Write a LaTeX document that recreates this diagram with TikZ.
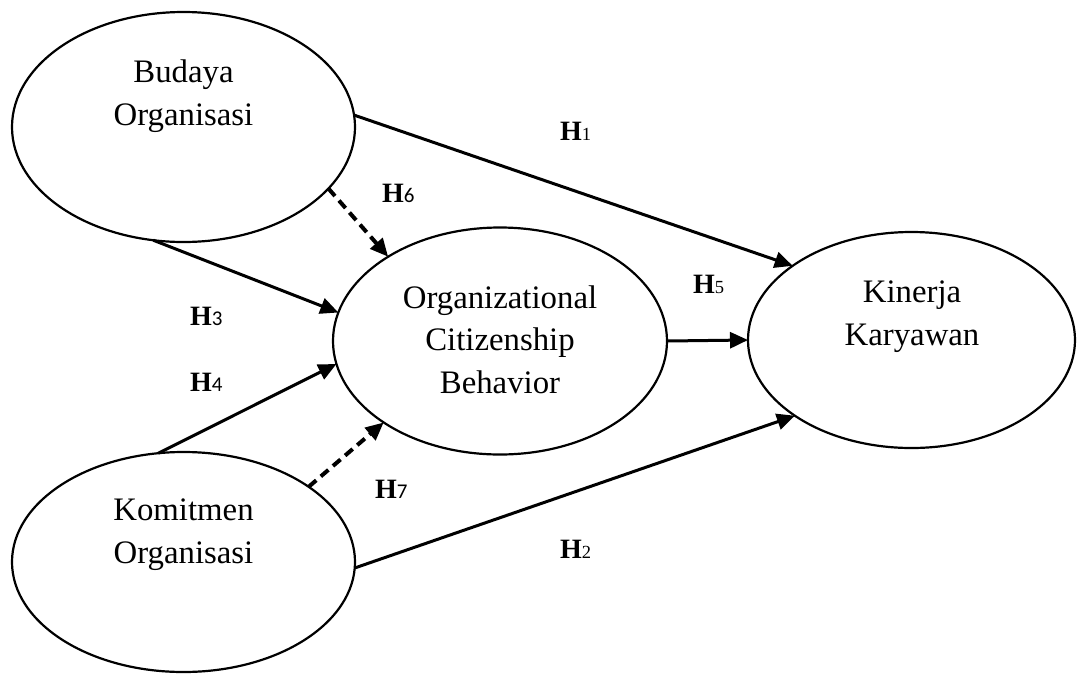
\documentclass[tikz,border=0pt]{standalone}
\usepackage{fontspec}
\setmainfont{Liberation Serif}
\newfontfamily\calfont{Carlito}
\usetikzlibrary{shapes.geometric,arrows.meta}
\tikzset{
  latent/.style={ellipse, draw, line width=2.2pt, inner sep=0pt, outer sep=0pt},
  lbl/.style={font=\fontsize{32.8}{42.5}\selectfont, align=center, anchor=base, inner sep=0pt},
  hyp/.style={anchor=base west, inner sep=0pt, font=\fontsize{28}{30}\selectfont},
  arr/.style={line width=3pt, -{Triangle[length=18pt,width=16pt]}},
  darr/.style={line width=4pt, dash pattern=on 10pt off 6pt, -{Triangle[length=18pt,width=16pt]}}
}
\newcommand{\hlab}[1]{\textbf{H}{\fontsize{18.5}{20}\selectfont #1}}
\newcommand{\hlabc}[1]{\textbf{H}{\calfont\fontsize{21}{22}\selectfont #1}}
\begin{document}
\begin{tikzpicture}[x=1pt,y=-1pt]
\useasboundingbox (0,0) rectangle (1077,673);
% ellipses
\node[latent, minimum width=343pt, minimum height=230pt] (bud) at (183.5,127) {};
\node[latent, minimum width=343pt, minimum height=220pt] (kom) at (183.5,562) {};
\node[latent, minimum width=334pt, minimum height=227pt] (ocb) at (500,341) {};
\node[latent, minimum width=327pt, minimum height=216pt] (kin) at (911.5,340) {};
% texts (anchor base = last line baseline)
\node[lbl] (tbud) at (183.5,125) {Budaya\\Organisasi};
\node[lbl] (tkom) at (183.5,563) {Komitmen\\Organisasi};
\node[lbl] (tocb) at (500,393) {Organizational\\Citizenship\\Behavior};
\node[lbl] (tkin) at (912,345) {Kinerja\\Karyawan};
% connectors
\draw[arr] (bud.4) -- (kin.148.6);
\draw[arr] (bud.255.3) -- (ocb.170.9);
\draw[darr] (bud.-23) -- (ocb.143.9);
\draw[arr] (kom.103.7) -- (ocb.188.2);
\draw[darr] (kom.31.6) -- (ocb.215.9);
\draw[arr] (kom.-2) -- (kin.213.4);
\draw[arr] (ocb.0) -- (kin.180);
% hypothesis labels
\node[hyp] (h1) at (560,140) {\hlab{1}};
\node[hyp] (h6) at (382,202) {\hlabc{6}};
\node[hyp] (h3) at (190,325) {\hlabc{3}};
\node[hyp] (h4) at (190,391) {\hlabc{4}};
\node[hyp] (h7) at (375,498) {\hlabc{7}};
\node[hyp] (h5) at (693,293) {\hlab{5}};
\node[hyp] (h2) at (560,558) {\hlab{2}};
\end{tikzpicture}
\end{document}
